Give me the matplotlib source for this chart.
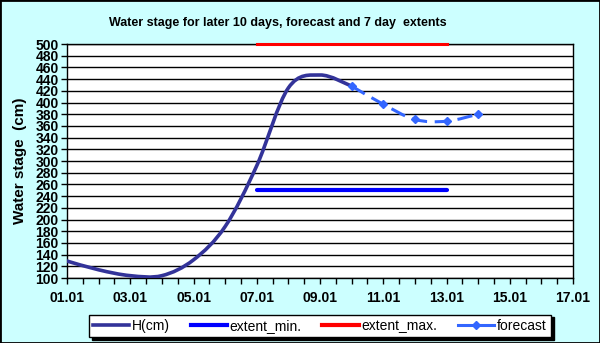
import numpy as np
import matplotlib.pyplot as plt
from matplotlib.path import Path
from matplotlib.patches import PathPatch, Rectangle
from matplotlib.lines import Line2D

plt.rcParams['font.family'] = ['Liberation Sans', 'DejaVu Sans']

# observed water stage, one value per day (01.01 .. 10.01)
days = [1, 2, 3, 4, 5, 6, 7, 8, 9, 10]
h_cm = [129, 114, 104, 104, 131, 188, 292, 425, 447, 428]

# forecast (10.01 .. 14.01)
fc_days = [10, 11, 12, 13, 14]
fc_cm = [428, 397, 371, 368, 380]

# 7 day extents
ext_days = [7, 13]
ext_min = [250, 250]
ext_max = [500, 500]

xticks = [1, 3, 5, 7, 9, 11, 13, 15, 17]
xlabels = ['01.01', '03.01', '05.01', '07.01', '09.01', '11.01', '13.01', '15.01', '17.01']

bg = '#CCFFFF'


def smooth_path(x, y):
    # Excel-style smoothed line: cubic Bezier through the points
    p = np.column_stack([x, y]).astype(float)
    n = len(p)
    verts = [p[0]]
    codes = [Path.MOVETO]
    for i in range(n - 1):
        p0 = p[i - 1] if i > 0 else p[i]
        p3 = p[i + 2] if i + 2 < n else p[i + 1]
        c1 = p[i] + (p[i + 1] - p0) / 6
        c2 = p[i + 1] - (p3 - p[i]) / 6
        verts += [c1, c2, p[i + 1]]
        codes += [Path.CURVE4] * 3
    return Path(verts, codes)


fig = plt.figure(figsize=(6, 3.43), dpi=100, facecolor=bg)
ax = fig.add_axes([0.1117, 0.1895, 0.8433, 0.6822])
ax.set_facecolor('white')

ax.set_xlim(1, 17)
ax.set_ylim(100, 500)
ax.set_yticks(np.arange(100, 501, 20))
ax.set_xticks(xticks)
ax.set_xticklabels(xlabels)
ax.set_xticks(np.arange(1, 17.01, 0.5), minor=True)
ax.grid(axis='y', color='black', linewidth=1)
ax.set_axisbelow(True)
for s in ax.spines.values():
    s.set_color('black')
    s.set_linewidth(1)
ax.tick_params(axis='both', which='both', direction='out', length=4, width=1, color='black')
ax.tick_params(axis='both', which='major', labelsize=10, pad=2)
for t in ax.get_xticklabels() + ax.get_yticklabels():
    t.set_fontweight('bold')
ax.tick_params(axis='x', pad=5)

# observed line
ax.add_patch(PathPatch(smooth_path(days, h_cm), fill=False, edgecolor='#333399',
                       linewidth=2.6, capstyle='round', zorder=4))
# extents
ax.plot(ext_days, ext_min, color='#0000FF', linewidth=3, solid_capstyle='round', zorder=3)
ax.plot(ext_days, ext_max, color='#FF0000', linewidth=2.2, zorder=5, clip_on=False)
# forecast
ax.add_patch(PathPatch(smooth_path(fc_days, fc_cm), fill=False, edgecolor='#3366FF',
                       linewidth=2.2, linestyle=(0, (5, 2.5)), zorder=5))
ax.plot(fc_days, fc_cm, linestyle='none', marker='D', markersize=4,
        color='#3366FF', zorder=6)

fig.text(0.463, 0.934, 'Water stage for later 10 days, forecast and 7 day  extents',
         ha='center', va='center', fontsize=9, fontweight='bold')
ax.set_ylabel('Water stage  (cm)', fontsize=11, fontweight='bold', labelpad=6)

handles = [
    Line2D([], [], color='#333399', linewidth=2.6),
    Line2D([], [], color='#0000FF', linewidth=3),
    Line2D([], [], color='#FF0000', linewidth=3),
    Line2D([], [], color='#3366FF', linewidth=2.2, marker='D', markersize=4),
]
leg = fig.legend(handles, ['H(cm)', 'extent_min.', 'extent_max.', 'forecast'],
                 loc='center', bbox_to_anchor=(0.533, 0.05), ncol=4,
                 fontsize=10, frameon=True, fancybox=False, framealpha=1,
                 edgecolor='black', facecolor='white', handlelength=2.6,
                 handletextpad=0.2, columnspacing=1.5, borderpad=0.3,
                 shadow={'color': 'black', 'alpha': 1, 'ox': 2, 'oy': -2})
leg.get_frame().set_linewidth(1)

fig.patches.append(Rectangle((0, 0), 1, 1, transform=fig.transFigure, fill=False,
                             edgecolor='black', linewidth=2))

fig.savefig('out.png', dpi=100, facecolor=bg)
